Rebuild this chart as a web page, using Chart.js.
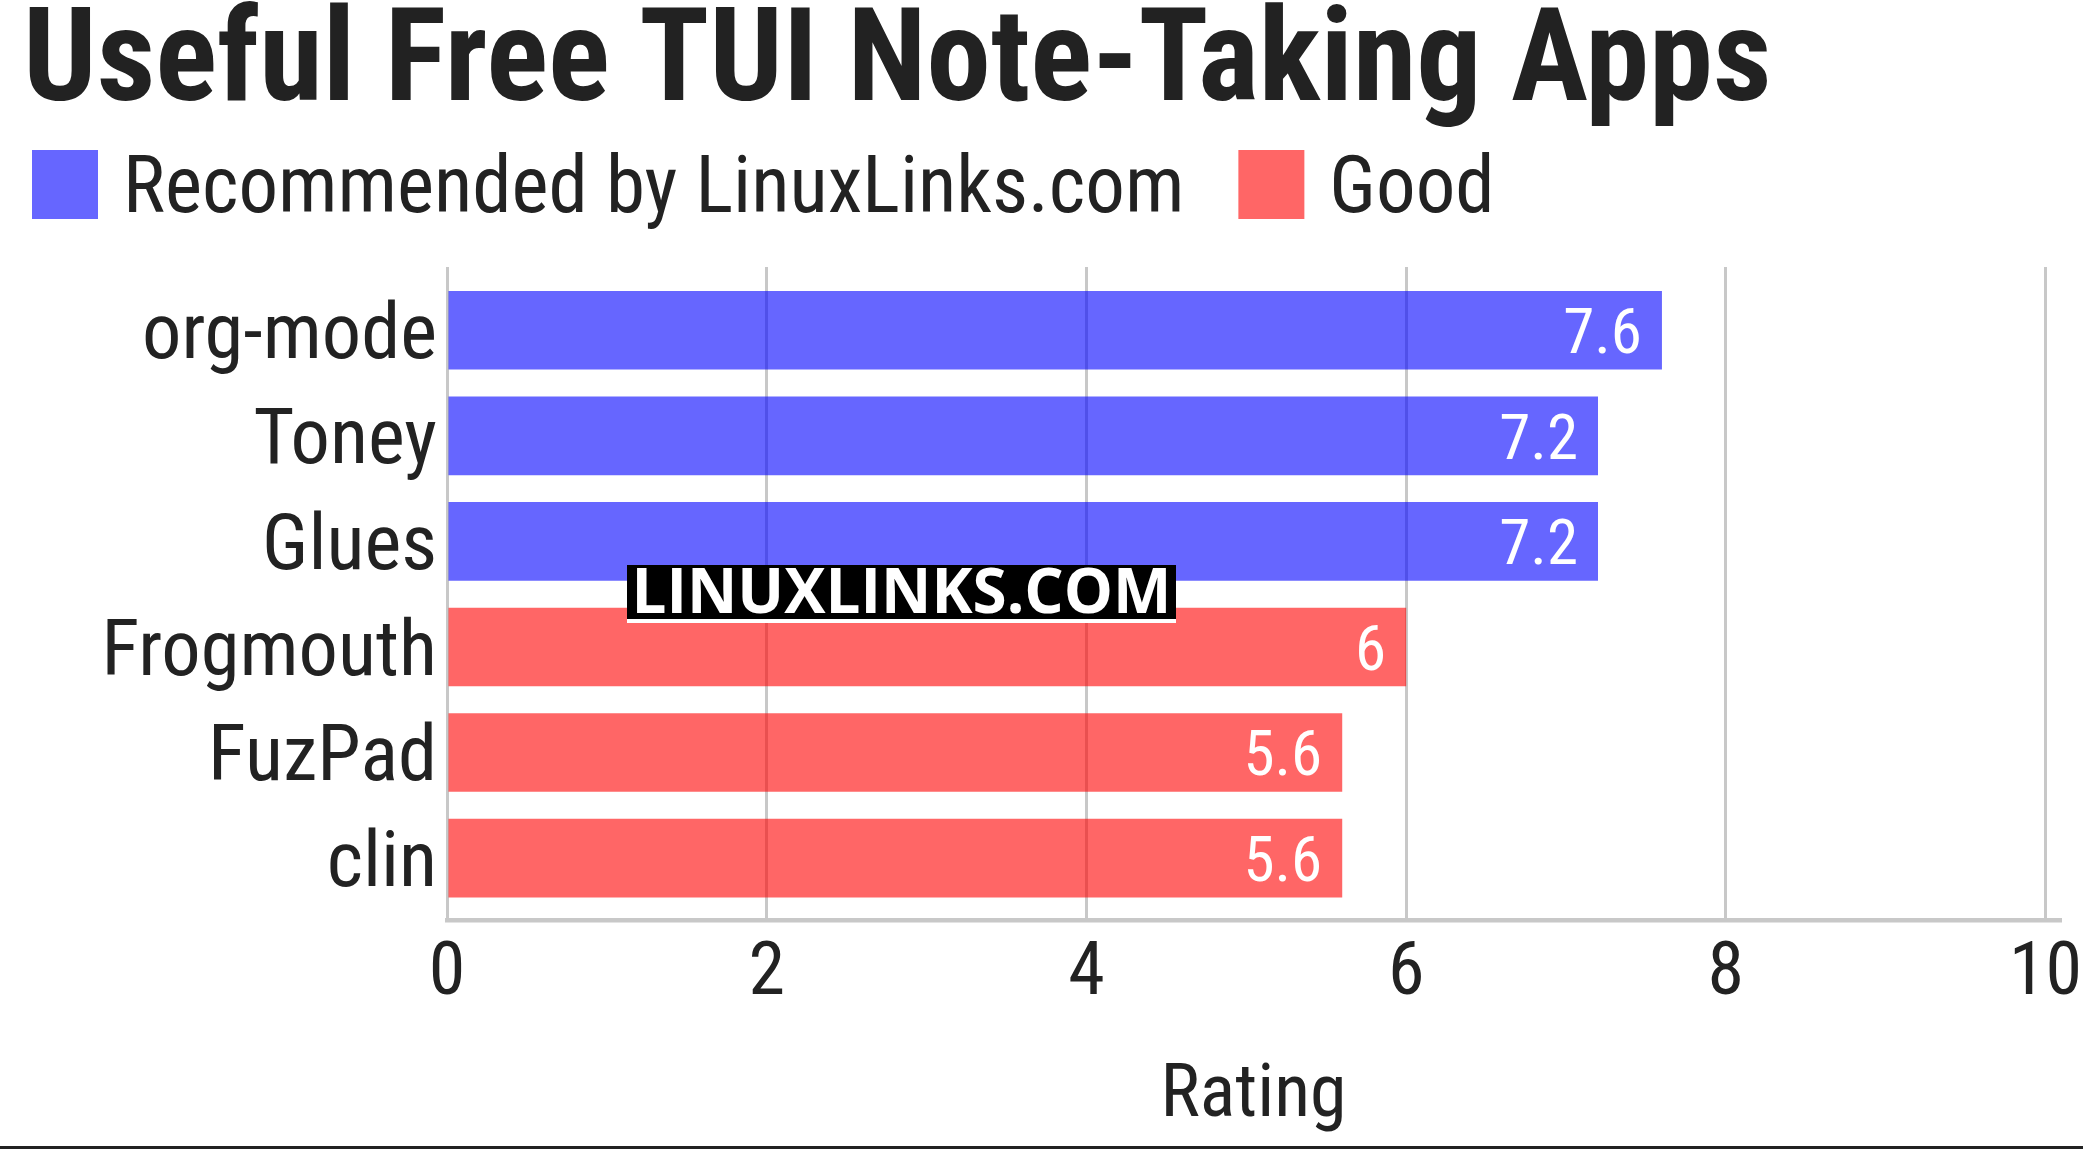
<!DOCTYPE html>
<html><head><meta charset="utf-8">
<script src="https://cdn.jsdelivr.net/npm/chart.js@4.4.1/dist/chart.umd.min.js"></script>
<style>
html,body{margin:0;padding:0;background:#fff;overflow:hidden}
#wrap{position:relative;width:2083px;height:1149px}
#bottomRule{position:absolute;left:0;right:0;bottom:0;height:3px;background:#222}
</style></head><body>
<div id="wrap"><canvas id="c" width="2083" height="1149"></canvas><div id="bottomRule"></div></div>
<script>
// ---- data ----
const categories = ['org-mode', 'Toney', 'Glues', 'Frogmouth', 'FuzPad', 'clin'];
const recommendedValues = [7.6, 7.2, 7.2, null, null, null];
const goodValues = [null, null, null, 6, 5.6, 5.6];
const seriesLabels = ['Recommended by LinuxLinks.com', 'Good'];
const xTickStep = 2;
const xMin = 0;
const xMax = 10.09;
const titleText = 'Useful Free TUI Note-Taking Apps';
const axisTitleText = 'Rating';
const watermarkText = 'LINUXLINKS.COM';

const FONT = "'Roboto Condensed', Roboto, sans-serif";
const TEXT = '#222222';
const GRID = '#C8C8C8';

const toPoints = vals => vals.map((v, i) => (v == null ? null : { x: v, y: i })).filter(Boolean);

const valueLabels = {
  id: 'valueLabels',
  afterDatasetsDraw(chart) {
    const ctx = chart.ctx;
    ctx.save();
    ctx.font = '400 63px ' + FONT;
    ctx.fillStyle = '#ffffff';
    ctx.textAlign = 'right';
    ctx.textBaseline = 'middle';
    chart.data.datasets.forEach((ds, di) => {
      const meta = chart.getDatasetMeta(di);
      meta.data.forEach((bar, i) => {
        ctx.fillText(String(ds.data[i].x), bar.x - 20, bar.y + 7);
      });
    });
    ctx.restore();
  }
};

const customLegend = {
  id: 'customLegend',
  afterDraw(chart) {
    const ctx = chart.ctx;
    ctx.save();
    ctx.font = '400 79px ' + FONT;
    ctx.textBaseline = 'middle';
    ctx.textAlign = 'left';
    let x = 32;
    const y = 150, bw = 66, bh = 69;
    chart.data.datasets.forEach(ds => {
      ctx.fillStyle = ds.backgroundColor;
      ctx.fillRect(x, y, bw, bh);
      ctx.fillStyle = TEXT;
      const tx = x + bw + 25;
      ctx.fillText(ds.label, tx, 192);
      x = tx + ctx.measureText(ds.label).width + 54;
    });
    ctx.restore();
  }
};

const watermark = {
  id: 'watermark',
  afterDraw(chart) {
    const ctx = chart.ctx;
    ctx.save();
    ctx.fillStyle = '#ffffff';
    ctx.fillRect(627, 565, 549, 58);
    ctx.fillStyle = '#000000';
    ctx.fillRect(627, 565, 549, 54);
    ctx.fillStyle = '#ffffff';
    ctx.font = "700 62px 'Open Sans', 'DejaVu Sans', sans-serif";
    ctx.textAlign = 'center';
    ctx.textBaseline = 'alphabetic';
    ctx.fillText(watermarkText, 901.5, 613, 540);
    ctx.restore();
  }
};

new Chart(document.getElementById('c'), {
  type: 'bar',
  data: {
    datasets: [
      { label: seriesLabels[0], data: toPoints(recommendedValues), backgroundColor: 'rgba(0,0,255,0.6)', borderWidth: 0 },
      { label: seriesLabels[1], data: toPoints(goodValues), backgroundColor: 'rgba(255,0,0,0.6)', borderWidth: 0 }
    ]
  },
  options: {
    indexAxis: 'y',
    responsive: false,
    devicePixelRatio: 1,
    animation: false,
    datasets: { bar: { grouped: false, categoryPercentage: 1, barPercentage: 0.745 } },
    layout: { padding: { left: 23, right: 23, top: 0, bottom: 0 } },
    scales: {
      x: {
        type: 'linear',
        position: 'bottom',
        min: xMin,
        max: xMax,
        grid: { color: GRID, lineWidth: 3, drawTicks: true, tickLength: 11, tickColor: 'rgba(0,0,0,0)' },
        border: { display: true, color: GRID, width: 4.5 },
        ticks: { stepSize: xTickStep, includeBounds: false, padding: 0, color: TEXT, font: { family: FONT, size: 74 } },
        title: { display: true, text: axisTitleText, color: TEXT, font: { family: FONT, size: 74 }, padding: { top: 7, bottom: 7 } },
        afterFit(scale) { scale.height = 228.5; }
      },
      y: {
        type: 'linear',
        reverse: true,
        offset: false,
        min: -0.599,
        max: 5.591,
        grid: { display: false, offset: false, drawTicks: true, tickLength: 10 },
        border: { display: false },
        ticks: {
          stepSize: 1, includeBounds: false, autoSkip: false, padding: 0, labelOffset: 8, color: TEXT,
          font: { family: FONT, size: 78.5, lineHeight: 0.01 },
          callback: v => (Number.isInteger(v) && categories[v] !== undefined ? categories[v] : '')
        },
        afterFit(scale) { scale.width = 424; }
      }
    },
    plugins: {
      legend: { display: false },
      tooltip: { enabled: false },
      title: {
        display: true, text: titleText, align: 'start', color: TEXT,
        font: { family: FONT, size: 129, weight: 700, lineHeight: 0.8 },
        padding: { top: 16, bottom: 147.8 }
      }
    }
  },
  plugins: [valueLabels, customLegend, watermark]
});
</script>
</body></html>
